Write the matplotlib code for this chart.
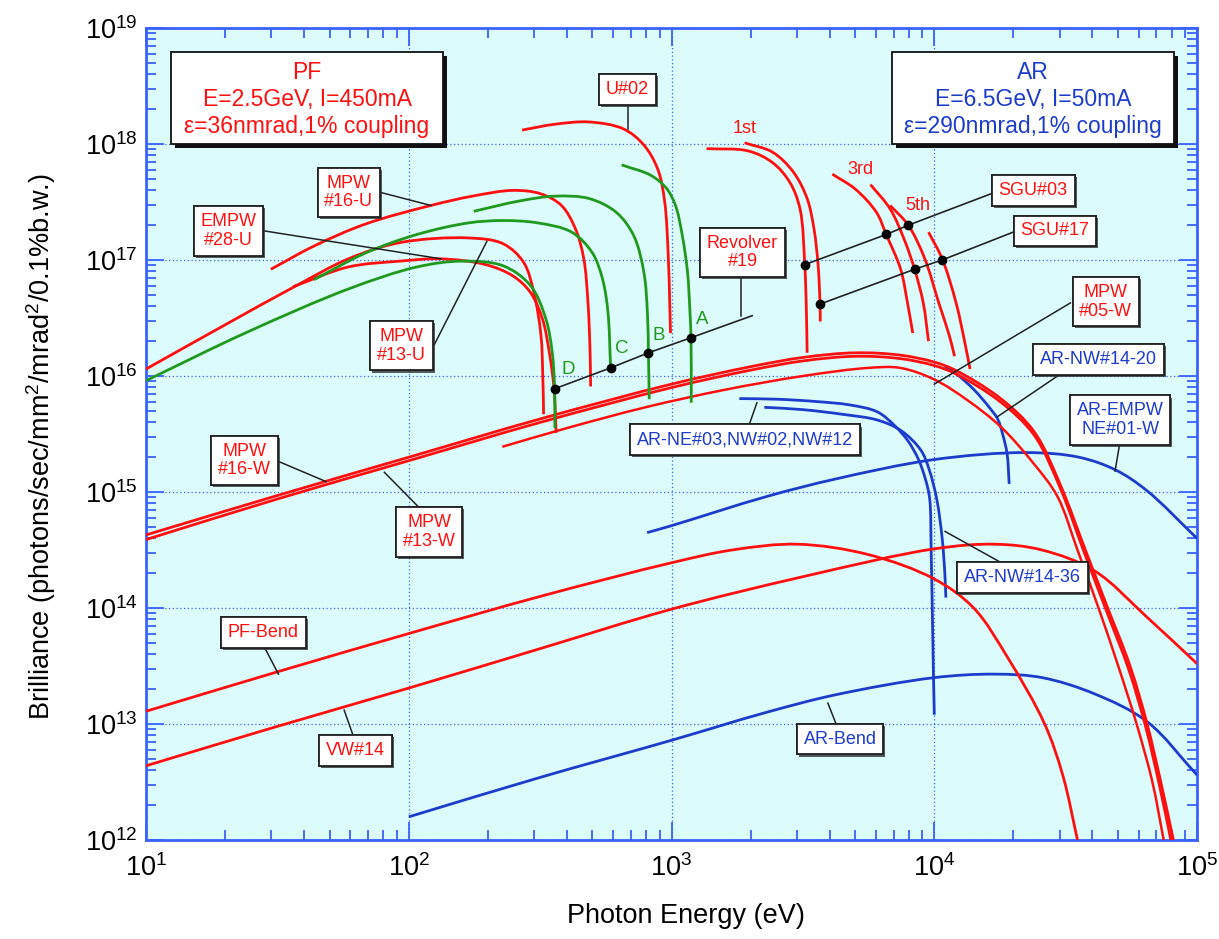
import numpy as np
import matplotlib
matplotlib.use('Agg')
import matplotlib.pyplot as plt
import matplotlib.patheffects as pe
from matplotlib.patches import Rectangle, PathPatch
from matplotlib.path import Path
from matplotlib.ticker import FixedLocator, LogLocator, FuncFormatter, NullFormatter

plt.rcParams['font.family'] = ['Liberation Sans', 'DejaVu Sans']
plt.rcParams['mathtext.fontset'] = 'custom'
plt.rcParams['mathtext.rm'] = 'Liberation Sans'
plt.rcParams['mathtext.it'] = 'Liberation Sans:italic'

RED = '#ff1010'
GREEN = '#1f9a1f'
BLUE = '#1c3ccc'
AXBLUE = '#3a62ff'
BG = '#dcfcfc'

# ---------------- data: log10(photon energy / eV), log10(brilliance) ----------------
mpw16w_logE = [1.0, 1.5, 2.0, 2.5, 3.0, 3.3, 3.5, 3.7, 3.87, 4.0, 4.08, 4.25, 4.38, 4.48, 4.575, 4.66, 4.745, 4.81, 4.862, 4.91]
mpw16w_logB = [14.63, 14.97, 15.30, 15.63, 15.93, 16.08, 16.16, 16.20, 16.18, 16.12, 16.05, 15.81, 15.52, 15.06, 14.5, 14.0, 13.5, 13.0, 12.5, 12.0]
mpw13w_logE = [1.0, 1.5, 2.0, 2.5, 3.0, 3.3, 3.5, 3.7, 3.87, 4.0, 4.08, 4.25, 4.38, 4.48, 4.572, 4.656, 4.74, 4.805, 4.857, 4.903]
mpw13w_logB = [14.59, 14.94, 15.27, 15.60, 15.90, 16.05, 16.13, 16.17, 16.15, 16.09, 16.02, 15.78, 15.49, 15.03, 14.47, 13.97, 13.47, 12.97, 12.47, 11.97]
mpw05w_logE = [2.356, 2.6, 2.9, 3.2, 3.5, 3.75, 3.87, 4.0, 4.127, 4.254, 4.38, 4.469, 4.545, 4.625, 4.70, 4.77, 4.83, 4.873]
mpw05w_logB = [15.39, 15.55, 15.73, 15.88, 16.0, 16.07, 16.07, 15.97, 15.79, 15.56, 15.24, 14.96, 14.5, 14.0, 13.5, 13.0, 12.5, 12.0]
pfbend_logE = [1.0, 1.5, 2.0, 2.5, 3.0, 3.23, 3.48, 3.75, 4.0, 4.15, 4.28, 4.42, 4.49, 4.545]
pfbend_logB = [13.11, 13.45, 13.78, 14.10, 14.39, 14.50, 14.55, 14.46, 14.25, 14.0, 13.57, 13.0, 12.55, 12.0]
vw14_logE = [1.0, 1.5, 2.0, 2.5, 3.0, 3.5, 4.0, 4.23, 4.41, 4.61, 4.81, 5.0]
vw14_logB = [12.64, 12.98, 13.31, 13.65, 13.99, 14.27, 14.51, 14.55, 14.50, 14.32, 13.92, 13.52]
arbend_logE = [2.0, 2.5, 3.0, 3.36, 3.62, 4.0, 4.23, 4.41, 4.61, 4.81, 5.0]
arbend_logB = [12.20, 12.54, 12.86, 13.10, 13.25, 13.40, 13.43, 13.40, 13.26, 13.02, 12.56]
arempw_logE = [2.907, 3.0, 3.36, 3.62, 4.0, 4.35, 4.55, 4.69, 4.81, 5.0]
arempw_logB = [14.65, 14.71, 14.96, 15.11, 15.28, 15.34, 15.30, 15.19, 15.01, 14.60]
arne_logE = [3.258, 3.4, 3.55, 3.68, 3.784, 3.85, 3.9, 3.94, 3.965, 3.982, 3.988, 3.993, 3.997, 4.0]
arne_logB = [15.805, 15.80, 15.78, 15.75, 15.69, 15.57, 15.44, 15.28, 15.12, 14.95, 14.5, 13.9, 13.4, 13.08]
arnw36_logE = [3.353, 3.5, 3.65, 3.784, 3.873, 3.949, 3.981, 4.01, 4.03, 4.04, 4.044]
arnw36_logB = [15.73, 15.71, 15.67, 15.62, 15.53, 15.36, 15.19, 14.93, 14.6, 14.3, 14.09]
arnw20_logE = [4.04, 4.083, 4.152, 4.209, 4.241, 4.26, 4.277, 4.285]
arnw20_logB = [16.08, 16.02, 15.88, 15.73, 15.63, 15.50, 15.33, 15.07]
u02_logE = [2.431, 2.555, 2.686, 2.817, 2.895, 2.948, 2.974, 2.987, 2.993, 2.996]
u02_logB = [18.12, 18.17, 18.19, 18.13, 17.99, 17.78, 17.50, 17.06, 16.63, 16.37]
mpw16u_logE = [1.475, 1.639, 1.835, 2.084, 2.241, 2.398, 2.503, 2.581, 2.634, 2.666, 2.682, 2.69, 2.692]
mpw16u_logB = [16.92, 17.12, 17.31, 17.47, 17.55, 17.60, 17.57, 17.47, 17.27, 17.01, 16.63, 16.20, 15.91]
mpw13u_logE = [1.0, 1.3, 1.573, 1.77, 1.966, 2.228, 2.359, 2.437, 2.476, 2.503, 2.51, 2.513]
mpw13u_logB = [16.06, 16.44, 16.78, 17.01, 17.15, 17.19, 17.14, 16.98, 16.72, 16.35, 16.0, 15.67]
empw28u_logE = [1.56, 1.77, 1.966, 2.123, 2.293, 2.398, 2.463, 2.509, 2.535, 2.552, 2.561]
empw28u_logB = [16.77, 16.94, 16.99, 17.01, 16.96, 16.86, 16.72, 16.49, 16.20, 15.91, 15.51]
revD_logE = [1.0, 1.377, 1.77, 2.031, 2.202, 2.359, 2.463, 2.522, 2.546, 2.555, 2.556]
revD_logB = [15.96, 16.37, 16.75, 16.94, 16.99, 16.95, 16.78, 16.49, 16.20, 15.89, 15.55]
revC_logE = [1.639, 1.835, 2.031, 2.228, 2.359, 2.49, 2.62, 2.699, 2.738, 2.758, 2.768]
revC_logB = [16.83, 17.06, 17.22, 17.32, 17.34, 17.32, 17.24, 17.06, 16.83, 16.55, 16.08]
revB_logE = [2.247, 2.424, 2.555, 2.686, 2.79, 2.856, 2.895, 2.908, 2.912, 2.915]
revB_logB = [17.42, 17.51, 17.55, 17.53, 17.41, 17.21, 16.89, 16.55, 16.20, 15.80]
revA_logE = [2.81, 2.921, 2.98, 3.015, 3.041, 3.061, 3.07, 3.074, 3.075]
revA_logB = [17.82, 17.73, 17.62, 17.47, 17.21, 16.89, 16.55, 16.33, 15.77]
sgu03_1_logE = [3.133, 3.292, 3.384, 3.45, 3.489, 3.507, 3.513, 3.516]
sgu03_1_logB = [17.96, 17.94, 17.84, 17.67, 17.44, 16.96, 16.58, 16.20]
sgu17_1_logE = [3.278, 3.384, 3.463, 3.516, 3.542, 3.558, 3.565, 3.566]
sgu17_1_logB = [18.01, 17.93, 17.76, 17.53, 17.27, 16.95, 16.62, 16.47]
sgu03_3_logE = [3.612, 3.70, 3.78, 3.817, 3.872, 3.898, 3.918]
sgu03_3_logB = [17.74, 17.61, 17.41, 17.22, 16.92, 16.63, 16.37]
sgu17_3_logE = [3.757, 3.832, 3.885, 3.925, 3.958, 3.978]
sgu17_3_logB = [17.65, 17.44, 17.18, 16.92, 16.63, 16.30]
sgu03_5_logE = [3.832, 3.901, 3.964, 4.017, 4.057, 4.077]
sgu03_5_logB = [17.47, 17.30, 17.01, 16.63, 16.35, 16.17]
sgu17_5_logE = [3.978, 4.03, 4.083, 4.116, 4.136]
sgu17_5_logB = [17.24, 17.01, 16.63, 16.29, 16.06]

# operating points (black dots); last entry is the end of the leader line
revolver_pts_logE = [2.555, 2.768, 2.912, 3.074, 3.307]
revolver_pts_logB = [15.89, 16.07, 16.20, 16.33, 16.52]
sgu03_pts_logE = [3.507, 3.817, 3.901, 4.215]
sgu03_pts_logB = [16.96, 17.22, 17.30, 17.57]
sgu17_pts_logE = [3.565, 3.925, 4.03, 4.30]
sgu17_pts_logB = [16.62, 16.92, 17.0, 17.24]

x_ticks = [1, 2, 3, 4, 5]
y_ticks = [12, 13, 14, 15, 16, 17, 18, 19]

# ---------------- figure ----------------
fig = plt.figure(figsize=(12.19, 9.39), dpi=100)
ax = fig.add_axes([0.1198, 0.1054, 0.8622, 0.8648])
ax.set_facecolor(BG)
ax.set_xscale('log')
ax.set_yscale('log')
ax.set_xlim(10.0 ** x_ticks[0], 10.0 ** x_ticks[-1])
ax.set_ylim(10.0 ** y_ticks[0], 10.0 ** y_ticks[-1])

SX, SY = 262.75, 116.0   # pixels per decade (for a smooth, even-looking stroke)


def P(lx, ly):
    return np.power(10.0, lx), np.power(10.0, ly)


def curve(lx, ly, color, lw=2.0, z=3):
    """Smooth stroke through the read points (centripetal Catmull-Rom as Bezier)."""
    pts = np.column_stack([np.asarray(lx, float) * SX, np.asarray(ly, float) * SY])
    n = len(pts)
    ext = np.vstack([2 * pts[0] - pts[1], pts, 2 * pts[-1] - pts[-2]])
    verts = [pts[0]]
    codes = [Path.MOVETO]
    for j in range(n - 1):
        P0, P1, P2, P3 = ext[j], ext[j + 1], ext[j + 2], ext[j + 3]
        t01 = max(np.linalg.norm(P1 - P0) ** 0.5, 1e-6)
        t12 = max(np.linalg.norm(P2 - P1) ** 0.5, 1e-6)
        t23 = max(np.linalg.norm(P3 - P2) ** 0.5, 1e-6)
        m1 = (P1 - P0) / t01 - (P2 - P0) / (t01 + t12) + (P2 - P1) / t12
        m2 = (P2 - P1) / t12 - (P3 - P1) / (t12 + t23) + (P3 - P2) / t23
        verts += [P1 + m1 * t12 / 3.0, P2 - m2 * t12 / 3.0, P2]
        codes += [Path.CURVE4] * 3
    v = np.array(verts)
    xy = np.column_stack([np.power(10.0, v[:, 0] / SX), np.power(10.0, v[:, 1] / SY)])
    patch = PathPatch(Path(xy, codes), fc='none', ec=color, lw=lw, zorder=z,
                      capstyle='butt', joinstyle='round')
    ax.add_patch(patch)


# blue AR curves first
curve(arnw20_logE, arnw20_logB, BLUE)
curve(arne_logE, arne_logB, BLUE)
curve(arnw36_logE, arnw36_logB, BLUE)
curve(arempw_logE, arempw_logB, BLUE)
curve(arbend_logE, arbend_logB, BLUE)

# red
curve(pfbend_logE, pfbend_logB, RED)
curve(vw14_logE, vw14_logB, RED)
curve(mpw05w_logE, mpw05w_logB, RED, lw=1.8)
curve(mpw16w_logE, mpw16w_logB, RED, lw=2.0)
curve(mpw13w_logE, mpw13w_logB, RED, lw=2.0)
curve(u02_logE, u02_logB, RED)
curve(mpw16u_logE, mpw16u_logB, RED)
curve(mpw13u_logE, mpw13u_logB, RED)
curve(empw28u_logE, empw28u_logB, RED)
for lx, ly in [(sgu03_1_logE, sgu03_1_logB), (sgu17_1_logE, sgu17_1_logB),
               (sgu03_3_logE, sgu03_3_logB), (sgu17_3_logE, sgu17_3_logB),
               (sgu03_5_logE, sgu03_5_logB), (sgu17_5_logE, sgu17_5_logB)]:
    curve(lx, ly, RED)

# green revolver
curve(revD_logE, revD_logB, GREEN)
curve(revC_logE, revC_logB, GREEN)
curve(revB_logE, revB_logB, GREEN)
curve(revA_logE, revA_logB, GREEN)

# operating-point lines with dots
for lx, ly in [(revolver_pts_logE, revolver_pts_logB), (sgu03_pts_logE, sgu03_pts_logB),
               (sgu17_pts_logE, sgu17_pts_logB)]:
    x, y = P(lx, ly)
    ax.plot(x, y, color='#222222', lw=1.2, zorder=5)
    ax.plot(x[:-1], y[:-1], 'o', color='black', ms=6, zorder=6)

# letters and harmonic labels
for s, lx, ly in [('D', 2.605, 16.06), ('C', 2.81, 16.24), ('B', 2.952, 16.35), ('A', 3.117, 16.49)]:
    x, y = P(lx, ly)
    ax.text(x, y, s, color=GREEN, fontsize=13.5, ha='center', va='center', zorder=7)
for s, lx, ly in [('1st', 3.278, 18.13), ('3rd', 3.72, 17.78), ('5th', 3.938, 17.47)]:
    x, y = P(lx, ly)
    ax.text(x, y, s, color=RED, fontsize=13, ha='center', va='center', zorder=7)

# label, centre, colour, leader start, leader end
labels = [
    ('U#02', 2.831, 18.47, RED, (2.834, 18.40), (2.834, 18.13)),
    ('MPW\n#16-U', 1.772, 17.58, RED, (1.897, 17.58), (2.084, 17.47)),
    ('EMPW\n#28-U', 1.314, 17.25, RED, (1.452, 17.25), (2.123, 17.01)),
    ('MPW\n#13-U', 1.973, 16.26, RED, (2.097, 16.27), (2.297, 17.16)),
    ('Revolver\n#19', 3.27, 17.065, RED, (3.265, 16.90), (3.265, 16.52)),
    ('SGU#03', 4.376, 17.60, RED, None, None),
    ('SGU#17', 4.459, 17.25, RED, None, None),
    ('MPW\n#05-W', 4.653, 16.64, RED, (4.518, 16.63), (4.0, 15.93)),
    ('AR-NW#14-20', 4.625, 16.14, BLUE, (4.469, 16.0), (4.241, 15.65)),
    ('AR-EMPW\nNE#01-W', 4.707, 15.62, BLUE, (4.708, 15.45), (4.688, 15.18)),
    ('AR-NE#03,NW#02,NW#12', 3.279, 15.45, BLUE, (3.283, 15.50), (3.325, 15.77)),
    ('AR-NW#14-36', 4.335, 14.26, BLUE, (4.327, 14.30), (4.041, 14.66)),
    ('AR-Bend', 3.641, 12.87, BLUE, (3.635, 12.95), (3.595, 13.18)),
    ('MPW\n#16-W', 1.374, 15.27, RED, (1.508, 15.26), (1.685, 15.09)),
    ('MPW\n#13-W', 2.077, 14.655, RED, (2.068, 14.80), (1.907, 15.17)),
    ('PF-Bend', 1.446, 13.79, RED, (1.442, 13.70), (1.504, 13.43)),
    ('VW#14', 1.797, 12.77, RED, (1.796, 12.85), (1.754, 13.12)),
]
for s, lx, ly, col, p0, p1 in labels:
    if p0 is not None:
        x, y = P([p0[0], p1[0]], [p0[1], p1[1]])
        ax.plot(x, y, color='#222222', lw=1.1, zorder=5)
    x, y = P(lx, ly)
    t = ax.text(x, y, s, color=col, fontsize=13, ha='center', va='center', zorder=8,
                linespacing=1.12,
                bbox=dict(boxstyle='square,pad=0.38', fc='white', ec='#222222', lw=1.3))
    t.get_bbox_patch().set_path_effects([
        pe.withSimplePatchShadow(offset=(1.5, -1.5), shadow_rgbFace='#333333', alpha=0.8),
        pe.Normal()])

# big info boxes (axes fraction)
for (x0, x1), col, lines in [((0.0239, 0.2825), RED,
                              'PF\nE=2.5GeV, I=450mA\nε=36nmrad,1% coupling'),
                             ((0.7097, 0.9785), BLUE,
                              'AR\nE=6.5GeV, I=50mA\nε=290nmrad,1% coupling')]:
    y0, y1 = 0.857, 0.971
    sh = Rectangle((x0 + 0.0035, y0 - 0.005), x1 - x0, y1 - y0, transform=ax.transAxes,
                   fc='#111111', ec='none', zorder=8)
    ax.add_patch(sh)
    r = Rectangle((x0, y0), x1 - x0, y1 - y0, transform=ax.transAxes,
                  fc='white', ec='#111111', lw=1.3, zorder=9)
    ax.add_patch(r)
    ax.text((x0 + x1) / 2, (y0 + y1) / 2 - 0.002, lines, transform=ax.transAxes, color=col,
            fontsize=16.5, ha='center', va='center', linespacing=1.2, zorder=10)

# axes styling
for sp in ax.spines.values():
    sp.set_color(AXBLUE)
    sp.set_linewidth(2.0)
ax.xaxis.set_major_locator(FixedLocator([10.0 ** k for k in x_ticks]))
ax.yaxis.set_major_locator(FixedLocator([10.0 ** k for k in y_ticks]))
ax.xaxis.set_minor_locator(LogLocator(base=10, subs=np.arange(2, 10), numticks=20))
ax.yaxis.set_minor_locator(LogLocator(base=10, subs=np.arange(2, 10), numticks=20))
fmt = FuncFormatter(lambda v, p: r'$\mathregular{10^{%d}}$' % int(round(np.log10(v))))
ax.xaxis.set_major_formatter(fmt)
ax.yaxis.set_major_formatter(fmt)
ax.xaxis.set_minor_formatter(NullFormatter())
ax.yaxis.set_minor_formatter(NullFormatter())
ax.xaxis.get_offset_text().set_visible(False)
ax.yaxis.get_offset_text().set_visible(False)
ax.tick_params(which='both', direction='in', top=True, right=True, color=AXBLUE, width=1.3)
ax.tick_params(which='major', length=13)
ax.tick_params(which='minor', length=7)
ax.tick_params(axis='x', which='major', labelsize=19.5, pad=10)
ax.tick_params(axis='y', which='major', labelsize=19.5, pad=6)
ax.grid(which='major', color=AXBLUE, ls=(0, (1, 2)), lw=0.9, zorder=1)
ax.set_axisbelow(True)

ax.set_xlabel('Photon Energy (eV)', fontsize=19.5)
ax.set_ylabel(r'Brilliance (photons/sec/mm$\mathregular{^2}$/mrad$\mathregular{^2}$/0.1%b.w.)',
              fontsize=19.5)
ax.xaxis.set_label_coords(0.514, -0.078)
ax.yaxis.set_label_coords(-0.084, 0.484)

fig.savefig('out.png', dpi=100, facecolor='white')
